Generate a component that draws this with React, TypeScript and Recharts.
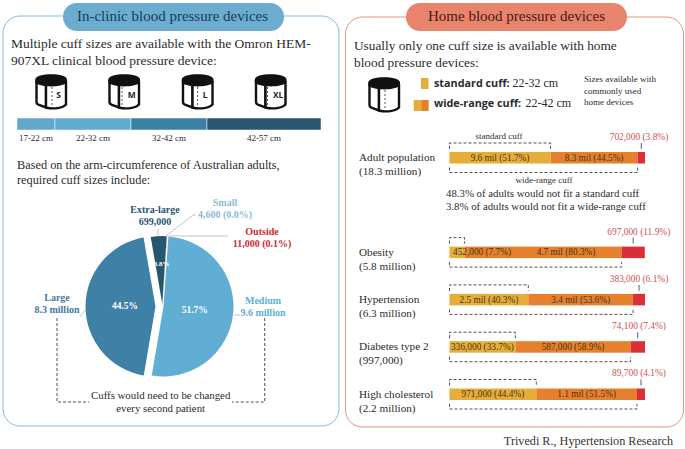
import React from 'react';
import { BarChart, Bar, XAxis, YAxis, LabelList, PieChart, Pie, Cell, Sector } from 'recharts';

const SERIF = '"Liberation Serif", serif';
const SANS = '"Open Sans", sans-serif';

// cuff ranges (cm wide), left panel strip
const rangeWidths = [5, 10, 10, 15];
const rangeLabels = ['17-22 cm', '22-32 cm', '32-42 cm', '42-57 cm'];
const rangeColors = ['#62a6cb', '#5fabd2', '#3d80a5', '#28566f'];
const cuffIconLabels = ['S', 'M', 'L', 'XL'];

// pie, people in millions
const pieNames = ['Medium', 'Large', 'Extra-large', 'Small', 'Outside'];
const pieValues = [9.6, 8.3, 0.699, 0.0046, 0.011];
const piePercents = ['51.7%', '44.5%', '3.8%', '', ''];
const pieColors = ['#60aed4', '#3f80a6', '#27566f', '#8dbbd6', '#d92f37'];
const pieShifts = [[3.5, 0.5], [-4.5, 0.5], [2.3, -2], [2.3, -2], [2.3, -2]];

// home device rows, the empty one leaves room for the adult notes
const groups = ['Adult population', '', 'Obesity', 'Hypertension', 'Diabetes type 2', 'High cholesterol'];
const groupSizes = ['(18.3 million)', '', '(5.8 million)', '(6.3 million)', '(997,000)', '(2.2 million)'];
const standardPct = [51.7, 0, 7.7, 40.3, 33.7, 44.4];
const wideRangePct = [44.5, 0, 80.3, 53.6, 58.9, 51.5];
const outsidePct = [3.8, 0, 11.9, 6.1, 7.4, 4.1];
const standardLabels = ['9.6 mil (51.7%)', '', '452,000 (7.7%)', '2.5 mil (40.3%)', '336,000 (33.7%)', '971,000 (44.4%)'];
const wideRangeLabels = ['8.3 mil (44.5%)', '', '4.7 mil (80.3%)', '3.4 mil (53.6%)', '587,000 (58.9%)', '1.1 mil (51.5%)'];
const outsideLabels = ['702,000 (3.8%)', '', '697,000 (11.9%)', '383,000 (6.1%)', '74,100 (7.4%)', '89,700 (4.1%)'];

const rangeRow = [Object.fromEntries(rangeWidths.map((w, i) => ['r' + i, w]))];
const pieData = pieNames.map((name, i) => ({ name, value: pieValues[i] }));
const rows = groups.map((name, i) => ({
  name,
  standard: standardPct[i],
  wide: wideRangePct[i],
  outside: outsidePct[i],
  standardLabel: standardLabels[i],
  wideLabel: wideRangeLabels[i],
  outsideLabel: outsideLabels[i],
}));

const BRACKET = { fill: 'none', stroke: '#333', strokeWidth: 0.85, strokeDasharray: '3 2' };
const OBESITY_ROW = 2;
const ICON_X = [35, 108, 181.5, 254.5];
const ICON_DASH_X = [17, 14, 16, 13];

const CuffIcon = ({ x, y, label, dashX = 17 }: { x: number; y: number; label?: string; dashX?: number }) => (
  <g transform={`translate(${x},${y})`}>
    <path d="M1.5 6 V28 Q1.5 30 4 31 L11 33.5 V10" fill="#fff" stroke="#111" strokeWidth={2.4} />
    <path d="M11 11 V33.5 C18 35.5 28 34 31 30.5 V7" fill="#fff" stroke="#111" strokeWidth={2.4} />
    <path d="M0.3 5.5 C0.3 -1.5 32 -1.5 32 5.5 V9 C25 13.5 7 13.5 0.3 9 Z" fill="#111" />
    <line x1={dashX} y1={13} x2={dashX} y2={33} stroke="#444" strokeWidth={0.9} strokeDasharray="2 2" />
    {label && (
      <text x={23.6} y={23.5} textAnchor="middle" fontFamily={SANS} fontWeight={700} fontSize={8.4} fill="#222">
        {label}
      </text>
    )}
  </g>
);

const Lines = ({ x, y, lines, step, ...rest }: any) => (
  <text fontFamily={SERIF} {...rest}>
    {lines.map((line: string, i: number) => (
      <tspan key={line} x={x} y={y + i * step}>{line}</tspan>
    ))}
  </text>
);

const StandardBar = ({ x, y, width, height, fill }: any) => {
  if (!width) return null;
  return (
    <g>
      <rect x={x} y={y} width={width} height={height} fill={fill} />
      <path d={`M${x} ${y - 3} V${y - 9} H${x + width} V${y - 3}`} {...BRACKET} />
    </g>
  );
};

const WideBar = ({ x, y, width, height, fill, index }: any) => {
  if (!width) return null;
  const left = x - (width * standardPct[index]) / wideRangePct[index];
  const bottom = y + height;
  return (
    <g>
      <rect x={x} y={y} width={width} height={height} fill={fill} />
      <path d={`M${left} ${bottom + 4} V${bottom + 9} H${x + width} V${bottom + 4}`} {...BRACKET} />
    </g>
  );
};

const OutsideBar = ({ x, y, width, height, fill }: any) => {
  if (!width) return null;
  return (
    <g>
      <rect x={x} y={y} width={width} height={height} fill={fill} />
      <line x1={x + width / 2} y1={y - 9} x2={x + width / 2} y2={y - 3} stroke="#333" strokeWidth={0.8} />
    </g>
  );
};

const barText = (shift = 0) => ({ x, y, width, height, value, index }: any) => {
  if (!value) return null;
  const offset = index === OBESITY_ROW ? shift : 0;
  return (
    <text x={x + width / 2 + offset} y={y + height / 2 + 3} textAnchor="middle" fontFamily={SERIF} fontSize={9.3} fill="#4a3510">
      {value}
    </text>
  );
};

const outsideText = ({ x, y, width, value }: any) => {
  if (!value) return null;
  return (
    <text x={x + width - 6} y={y - 12} textAnchor="middle" fontFamily={SERIF} fontSize={9.4} fill="#cf5050">
      {value}
    </text>
  );
};

const groupTick = ({ y, payload, index }: any) => (
  <text fontFamily={SERIF} fontSize={11.2} fill="#2b2b2b">
    <tspan x={4} y={y + 3.5}>{payload.value}</tspan>
    <tspan x={4} y={y + 17.5}>{groupSizes[index]}</tspan>
  </text>
);

const pieSlice = (props: any) => {
  const [dx, dy] = pieShifts[props.index] ?? [0, 0];
  const radius = props.index === 2 ? props.outerRadius - 2 : props.outerRadius;
  return <Sector {...props} cx={props.cx + dx} cy={props.cy + dy} outerRadius={radius} />;
};

const pieLabel = ({ index, cx, cy, midAngle, outerRadius }: any) => {
  if (!piePercents[index]) return null;
  const rad = (midAngle * Math.PI) / 180;
  const r = outerRadius * (index === 2 ? 0.62 : 0.5);
  return (
    <text
      x={cx + r * Math.cos(rad) + (index === 2 ? 4 : 0)}
      y={cy - r * Math.sin(rad) + 3}
      textAnchor="middle"
      fontFamily={SERIF}
      fontWeight={700}
      fontSize={index === 2 ? 7 : 9.5}
      fill="#fff"
    >
      {piePercents[index]}
    </text>
  );
};

const Backdrop = () => (
  <svg width={685} height={449} style={{ position: 'absolute', left: 0, top: 0 }}>
    <rect x={3} y={16} width={336} height={410} rx={17} fill="#fff" stroke="#86bbd8" strokeWidth={1} />
    <rect x={345.5} y={17} width={338} height={410} rx={17} fill="#fff" stroke="#e39482" strokeWidth={1} />
    <rect x={63} y={3} width={221} height={28} rx={14} fill="#6bacd0" />
    <rect x={406} y={3} width={221} height={28} rx={14} fill="#e8836c" />
    <text x={172.5} y={21} textAnchor="middle" fontFamily={SERIF} fontSize={15} fill="#1c3d55">In-clinic blood pressure devices</text>
    <text x={516.5} y={21} textAnchor="middle" fontFamily={SERIF} fontSize={15} fill="#4a1a14">Home blood pressure devices</text>

    <Lines x={11} y={47.5} step={17} fontSize={13.5} fill="#2b2b2b"
      lines={['Multiple cuff sizes are available with the Omron HEM-', '907XL clinical blood pressure device:']} />
    {cuffIconLabels.map((label, i) => (
      <CuffIcon key={label} x={ICON_X[i]} y={74} label={label} dashX={ICON_DASH_X[i]} />
    ))}
    <Lines x={17} y={169} step={15} fontSize={12.3} fill="#2b2b2b"
      lines={['Based on the arm-circumference of Australian adults,', 'required cuff sizes include:']} />

    {/* pie callouts */}
    <polyline points="158,229 158,235" fill="none" stroke="#aaa" strokeWidth={0.7} />
    <polyline points="167,235 193,215 196,215" fill="none" stroke="#aaa" strokeWidth={0.7} />
    <polyline points="168,236 228,236" fill="none" stroke="#aaa" strokeWidth={0.7} />
    <polyline points="80,317 85,310" fill="none" stroke="#aaa" strokeWidth={0.7} />
    <polyline points="234,315 240,315" fill="none" stroke="#aaa" strokeWidth={0.7} />
    <Lines x={155} y={213} step={12} textAnchor="middle" fontWeight={700} fontSize={10} fill="#27566f" lines={['Extra-large', '699,000']} />
    <Lines x={225} y={205.5} step={12.4} textAnchor="middle" fontWeight={700} fontSize={10} fill="#8dbbd6" lines={['Small', '4,600 (0.0%)']} />
    <Lines x={262} y={235} step={12} textAnchor="middle" fontWeight={700} fontSize={10} fill="#d0282f" lines={['Outside', '11,000 (0.1%)']} />
    <Lines x={57} y={301} step={11.8} textAnchor="middle" fontWeight={700} fontSize={10} fill="#3f7ba0" lines={['Large', '8.3 million']} />
    <Lines x={263} y={303.5} step={12.4} textAnchor="middle" fontWeight={700} fontSize={10} fill="#60aed4" lines={['Medium', '9.6 million']} />
    <path d="M57 318 V402 H89" {...BRACKET} />
    <path d="M264.7 318 V402 H232" {...BRACKET} />
    <Lines x={160.7} y={398.5} step={13.2} textAnchor="middle" fontSize={10.8} fill="#2b2b2b"
      lines={['Cuffs would need to be changed', 'every second patient']} />

    {/* right panel header */}
    <Lines x={354} y={50} step={16.5} fontSize={13.3} fill="#2b2b2b"
      lines={['Usually only one cuff size is available with home', 'blood pressure devices:']} />
    <CuffIcon x={368} y={77} />
    <rect x={421} y={78} width={7.5} height={11} fill="#e5ae3a" />
    <rect x={413.7} y={100} width={7.5} height={11} fill="#e5ae3a" />
    <rect x={421.2} y={100} width={7.5} height={11} fill="#e5802f" />
    <text y={87} fontSize={12} fill="#2b2b2b">
      <tspan x={434} fontFamily={SANS} fontWeight={700} fontSize={10.8}>standard cuff:</tspan>
      <tspan x={512.5} fontFamily={SERIF}>22-32 cm</tspan>
    </text>
    <text y={107} fontSize={12} fill="#2b2b2b">
      <tspan x={434} fontFamily={SANS} fontWeight={700} fontSize={10.8}>wide-range cuff:</tspan>
      <tspan x={525.5} fontFamily={SERIF}>22-42 cm</tspan>
    </text>
    <Lines x={584} y={82} step={11.5} fontSize={9} fill="#2b2b2b" lines={['Sizes available with', 'commonly used', 'home devices']} />

    {/* adult notes */}
    <text x={499} y={139} textAnchor="middle" fontFamily={SERIF} fontSize={9} fill="#2b2b2b">standard cuff</text>
    <text x={544} y={183} textAnchor="middle" fontFamily={SERIF} fontSize={9} fill="#2b2b2b">wide-range cuff</text>
    <Lines x={446} y={197} step={13.4} fontSize={10.8} fill="#2b2b2b"
      lines={['48.3% of adults would not fit a standard cuff', '3.8% of adults would not fit a wide-range cuff']} />

    <text x={673} y={444.5} textAnchor="end" fontFamily={SERIF} fontSize={12.2} fill="#333">Trivedi R., Hypertension Research</text>
  </svg>
);

const App = () => (
  <div style={{ position: 'absolute', left: 0, top: 0, width: 685, height: 449, background: '#fff', overflow: 'hidden' }}>
    <Backdrop />

    <div style={{ position: 'absolute', left: 17, top: 118 }}>
      <BarChart width={304} height={26} layout="vertical" data={rangeRow} barCategoryGap={0}
        margin={{ top: 0, right: 0, bottom: 14, left: 0 }}>
        <XAxis type="number" hide domain={[0, 40]} />
        <YAxis type="category" hide />
        {rangeWidths.map((_, i) => (
          <Bar key={i} dataKey={'r' + i} stackId="cuff" fill={rangeColors[i]} stroke="#fff" strokeWidth={0.5} isAnimationActive={false}>
            <LabelList
              dataKey={'r' + i}
              content={({ x, y, width, height }: any) => (
                <text x={x + width / 2} y={y + height + 10.5} textAnchor="middle" fontFamily={SERIF} fontSize={9} fill="#2b2b2b">
                  {rangeLabels[i]}
                </text>
              )}
            />
          </Bar>
        ))}
      </BarChart>
    </div>

    <div style={{ position: 'absolute', left: 60, top: 220 }}>
      <PieChart width={200} height={172} margin={{ top: 0, right: 0, bottom: 0, left: 0 }}>
        <Pie
          data={pieData}
          dataKey="value"
          cx={100}
          cy={86}
          outerRadius={70}
          startAngle={86}
          endAngle={-274}
          stroke="none"
          labelLine={false}
          label={pieLabel}
          shape={pieSlice}
          isAnimationActive={false}
        >
          {pieData.map((d, i) => (
            <Cell key={d.name} fill={pieColors[i]} />
          ))}
        </Pie>
      </PieChart>
    </div>

    <div style={{ position: 'absolute', left: 355, top: 114 }}>
      <BarChart width={320} height={303.8} layout="vertical" data={rows} barSize={11.5}
        margin={{ top: 20, right: 30, bottom: 0, left: 0 }}>
        <XAxis type="number" hide domain={[0, 100]} />
        <YAxis type="category" dataKey="name" width={94.5} axisLine={false} tickLine={false} interval={0} tick={groupTick} />
        <Bar dataKey="standard" stackId="home" fill="#e5ae3a" shape={StandardBar} isAnimationActive={false}>
          <LabelList dataKey="standardLabel" content={barText(25)} />
        </Bar>
        <Bar dataKey="wide" stackId="home" fill="#e5802f" shape={WideBar} isAnimationActive={false}>
          <LabelList dataKey="wideLabel" content={barText(23)} />
        </Bar>
        <Bar dataKey="outside" stackId="home" fill="#d92f37" shape={OutsideBar} isAnimationActive={false}>
          <LabelList dataKey="outsideLabel" content={outsideText} />
        </Bar>
      </BarChart>
    </div>
  </div>
);

export default App;
